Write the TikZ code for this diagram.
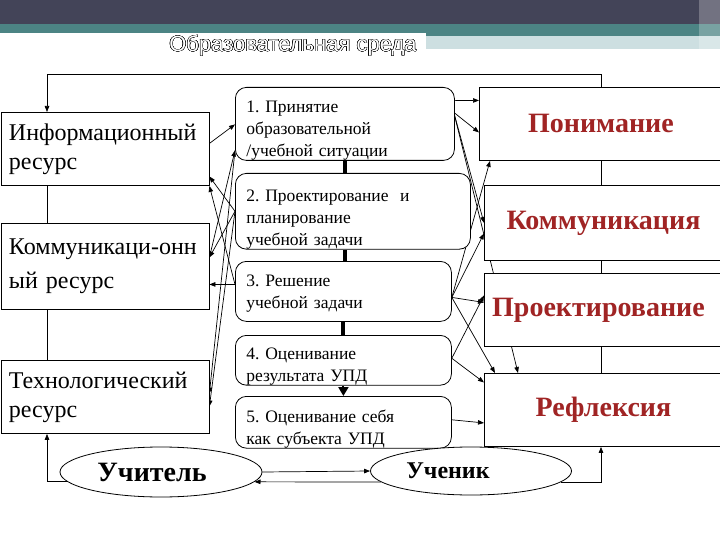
\documentclass[tikz,border=0pt]{standalone}
\usepackage{fontspec}
\setmainfont{Liberation Serif}
\newfontfamily\titlefont{Liberation Sans}
\usepackage[copies]{contour}
\contourlength{0.4pt}
\contournumber{16}
\usetikzlibrary{arrows.meta,calc,shapes.geometric}
\definecolor{hdark}{RGB}{67,68,88}
\definecolor{hteal}{RGB}{76,132,132}
\definecolor{hlight}{RGB}{205,223,225}
\definecolor{redtxt}{RGB}{160,36,36}
\pgfdeclarelayer{bg}
\pgfsetlayers{bg,main}
\newcommand{\topstrut}[1]{\rule{0pt}{#1}}
\frenchspacing
\begin{document}
\begin{tikzpicture}[x=1pt,y=-1pt,
 arr/.style={-{Triangle[length=6pt,width=4.5pt]},line width=0.7pt},
 plain/.style={line width=0.8pt},
 thick4/.style={line width=4pt},
 lbox/.style={draw,line width=0.9pt,fill=white,anchor=north west,inner xsep=8pt,inner ysep=0pt,text width=192pt,minimum height=73pt,align=left,font=\fontsize{24}{29}\selectfont},
 mbox/.style={draw,line width=0.8pt,fill=white,rounded corners=11pt,anchor=north west,inner xsep=11pt,inner ysep=0pt,align=left,font=\fontsize{17.5}{22}\selectfont},
 rbox/.style={draw,line width=0.9pt,fill=white,anchor=north west,minimum width=243pt,minimum height=73pt,inner sep=0pt,font=\fontsize{28}{32}\selectfont\bfseries,text=redtxt},
 oval/.style={draw,line width=0.8pt,fill=white,ellipse,inner sep=0pt},
]
\useasboundingbox (0,0) rectangle (720,540);

% title
\node[font=\titlefont\fontsize{22}{24}\selectfont,inner sep=0pt] (title) at (293,46) {\contour{black}{\textcolor{white}{Образовательная среда}}};

% left boxes
\node[lbox] (info) at (0.5,112) {Информационный\\ресурс};
\node[lbox,minimum height=86pt,font=\fontsize{24}{34}\selectfont] (komm) at (0.5,223) {\mbox{Коммуникаци-онн}\\ый ресурс};
\node[lbox] (tech) at (0.5,360) {Технологический\\ресурс};

% middle boxes
\node[mbox,text width=197pt,minimum height=73pt] (b1) at (235,87) {\topstrut{24pt}1. Принятие\\образовательной\\/учебной ситуации};
\node[mbox,text width=213pt,minimum height=74pt] (b2) at (235,173) {\topstrut{28pt}2. Проектирование\ \ и\\планирование\\учебной задачи};
\node[mbox,text width=194pt,minimum height=60pt] (b3) at (235,261) {\topstrut{16pt}3. Решение\\учебной задачи};
\node[mbox,text width=194pt,minimum height=48pt] (b4) at (235,335) {\topstrut{24pt}4. Оценивание\\результата УПД};
\node[mbox,text width=194pt,minimum height=49pt] (b5) at (235,396) {\topstrut{26pt}5. Оценивание себя\\как субъекта УПД};

% right boxes
\node[rbox] (pon) at (479,87) {Понимание};
\node[rbox,minimum width=238pt,minimum height=75pt] (kom) at (484,185) {Коммуникация};
\node[rbox,minimum width=238pt] (proj) at (484,273) {Проектирование\rule{10pt}{0pt}};
\node[rbox,minimum width=238pt] (ref) at (484,373) {Рефлексия};

% ellipses
\node[oval,minimum width=202pt,minimum height=50pt,font=\fontsize{28}{30}\selectfont\bfseries] (uchit) at (161,472) {Учитель\rule{18pt}{0pt}};
\node[oval,minimum width=201pt,minimum height=48pt,font=\fontsize{24}{28}\selectfont\bfseries] (uchen) at (471,471) {Ученик\rule{46pt}{0pt}};

\begin{pgfonlayer}{bg}
 % header
 \fill[hdark] (0,0) rectangle (720,24);
 \fill[hteal] (0,24) rectangle (720,36);
 \fill[hlight] (0,36) rectangle (720,49);
 \fill[white] (0,33) rectangle (426,60);
 \fill[white,opacity=0.25] (699,0) rectangle (720,49);

 % outer loops
 \coordinate (tl) at (47,74);
 \coordinate (tr) at (601,74);
 \draw[arr] (pon.north -| tr) -- (tr) -- (tl) -- (tl |- info.north);
 \draw[plain] (tl |- info.south) -- (tl |- komm.north);
 \draw[plain] (tl |- komm.south) -- (tl |- tech.north);
 \draw[arr] (uchit.186) -| (tl |- tech.south);
 \draw[plain] (tr |- pon.south) -- (tr |- kom.north);
 \draw[plain] (tr |- kom.south) -- (tr |- proj.north);
 \draw[plain] (tr |- proj.south) -- (tr |- ref.north);
 \draw[arr] (uchen.353) -| (tr |- ref.south);
 \draw[arr] (uchit.east) -- (uchen.west);
 \draw[arr] (uchen.187) -- (uchit.354);

 % middle chain
 \draw[thick4] (b1.south) -- (b1.south |- b2.north);
 \draw[thick4] (b2.south -| b1.south) -- (b1.south |- b3.north);
 \draw[thick4] (b3.south) -- (b4.north);
 \draw[-{Triangle[length=9pt,width=10pt]},line width=2pt] (b4.south) -- (b5.north);

 % left side arrows
 \draw[arr] ($(info.east)+(0,-5.5)$) -- ($(b1.west)+(0,0.5)$);
 \draw[arr] ($(komm.east)+(0,-9)$) -- ($(b1.west)+(0,26.5)$);
 \draw[arr] (b2.west) -- ($(info.east)+(0,27.5)$);
 \draw[arr] ($(b3.west)+(0,-7)$) -- (info.south east);
 \draw[arr] (b2.west) -- ($(komm.east)+(0,-9)$);
 \draw[arr] ($(b3.west)+(0,-7)$) -- ($(komm.east)+(0,18)$);
 \draw[arr] ($(b1.west)+(0,26.5)$) -- ($(tech.east)+(0,-3.5)$);
 \draw[arr] (b2.west) -- ($(tech.east)+(0,9.5)$);

 % right side arrows
 \draw[arr] ($(b1.east)+(0,-23.5)$) -- ($(pon.west)+(0,-23.5)$);
 \draw[arr] ($(b1.east)+(-1,-11.5)$) -- ($(pon.west)+(0,8.5)$);
 \draw[arr] ($(b1.east)+(-1,-11.5)$) -- (kom.west);
 \draw[arr] ($(b1.east)+(-1,-11.5)$) -- ($(ref.north west)+(34,0)$);
 \draw[arr] ($(b3.east)+(0,6)$) -- ($(pon.south west)+(11,0)$);
 \draw[arr] ($(b3.east)+(0,6)$) -- ($(kom.west)+(0,10.5)$);
 \draw[arr] ($(b3.east)+(0,6)$) -- ($(proj.west)+(0,-7.5)$);
 \draw[arr] ($(b3.east)+(0,6)$) -- ($(ref.north west)+(11,0)$);
 \draw[arr] ($(b4.east)+(0,-2)$) -- ($(proj.west)+(0,-14.5)$);
 \draw[arr] ($(b4.east)+(0,-2)$) -- ($(ref.west)+(0,-27.5)$);
 \draw[arr] ($(b5.east)+(0,-2.5)$) -- ($(ref.west)+(0,13)$);
\end{pgfonlayer}
\end{tikzpicture}
\end{document}
